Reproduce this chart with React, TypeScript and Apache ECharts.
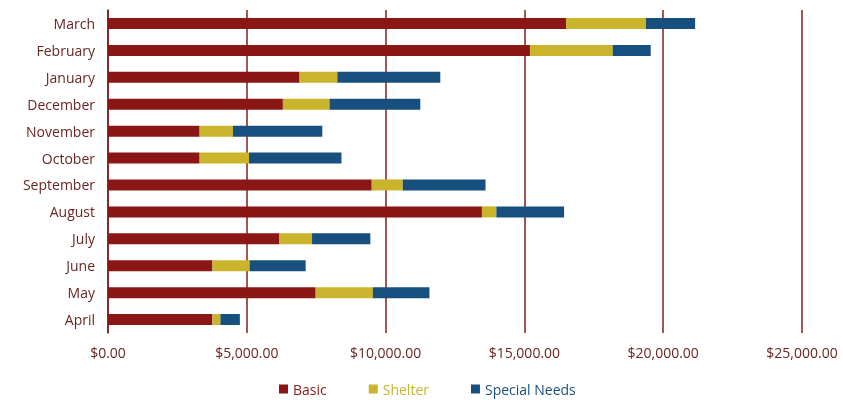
import React, { useEffect, useRef } from "react";
import * as echarts from "echarts";

const months = ["April", "May", "June", "July", "August", "September", "October", "November", "December", "January", "February", "March"];
const basic = [3760, 7480, 3760, 6160, 13470, 9500, 3300, 3300, 6300, 6900, 15200, 16500];
const shelter = [290, 2060, 1340, 1190, 520, 1120, 1780, 1200, 1680, 1360, 2980, 2880];
const specialNeeds = [700, 2040, 2020, 2100, 2440, 2980, 3330, 3220, 3270, 3710, 1370, 1770];
const xTicks = [0, 5000, 10000, 15000, 20000, 25000];

const seriesNames = ["Basic", "Shelter", "Special Needs"];
const colors = ["#8B1616", "#C9B42C", "#17507E"];

export default function App() {
  const ref = useRef<HTMLDivElement>(null);
  useEffect(() => {
    if (!ref.current) return;
    const chart = echarts.init(ref.current, undefined, { renderer: "svg" });
    const font = "Open Sans";
    const labelColor = "#6A2424";
    const dataSets = [basic, shelter, specialNeeds];
    chart.setOption({
      animation: false,
      textStyle: { fontFamily: font },
      grid: { left: 108, right: 41, top: 10, bottom: 71 },
      legend: {
        bottom: 3,
        left: 274,
        itemWidth: 9,
        itemHeight: 9,
        itemGap: 42,
        itemTextGap: 3,
        icon: "rect",
        data: seriesNames.map((n, i) => ({ name: n, textStyle: { color: colors[i] } })),
        textStyle: { fontFamily: font, fontSize: 14 },
      },
      xAxis: {
        type: "value",
        min: xTicks[0],
        max: xTicks[xTicks.length - 1],
        interval: 5000,
        axisLine: { show: false },
        axisTick: { show: false },
        splitLine: { show: true, lineStyle: { color: "#7E1E1E", width: 1.5 } },
        axisLabel: {
          color: labelColor,
          fontSize: 14,
          margin: 12,
          formatter: (v: number) =>
            "$" + v.toLocaleString("en-US", { minimumFractionDigits: 2, maximumFractionDigits: 2 }),
        },
      },
      yAxis: {
        type: "category",
        data: months,
        axisLine: { show: true, lineStyle: { color: "#7E1E1E", width: 1.5 } },
        axisTick: { show: false },
        axisLabel: { color: labelColor, fontSize: 14, margin: 13 },
      },
      series: dataSets.map((d, i) => ({
        name: seriesNames[i],
        type: "bar",
        stack: "total",
        data: d,
        barWidth: 11,
        itemStyle: { color: colors[i] },
      })),
    });
    return () => chart.dispose();
  }, []);
  return <div ref={ref} style={{ position: "fixed", left: 0, top: 0, width: 843, height: 404 }} />;
}
